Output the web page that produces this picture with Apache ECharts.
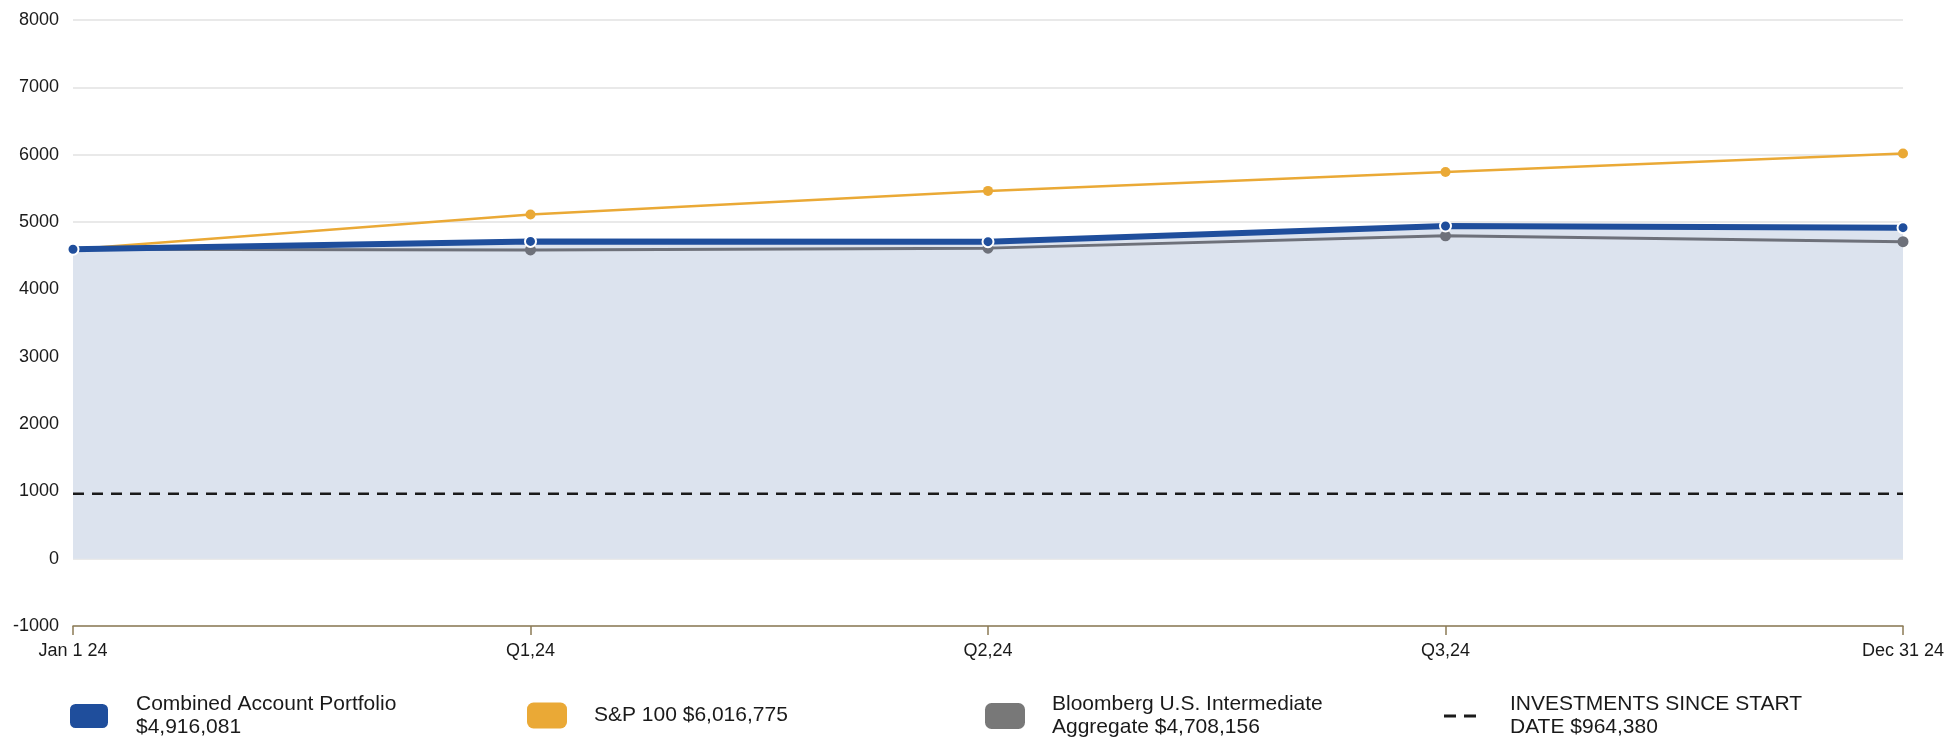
<!DOCTYPE html>
<html>
<head>
<meta charset="utf-8">
<script src="https://cdn.jsdelivr.net/npm/echarts@6/dist/echarts.min.js"></script>
<style>
  html, body { margin: 0; padding: 0; background: #fff; }
  #chart { width: 1950px; height: 740px; }
</style>
</head>
<body>
<div id="chart"></div>
<script>
// Period labels along the x axis
const periods = ['Jan 1 24', 'Q1,24', 'Q2,24', 'Q3,24', 'Dec 31 24'];

// Portfolio and benchmark values (thousands of dollars)
const combinedPortfolio = [4595, 4712, 4708, 4941, 4916];
const sp100 = [4595, 5112, 5462, 5742, 6017];
const bloombergAgg = [4595, 4585, 4612, 4795, 4708];
const investedSinceStart = [964.38, 964.38, 964.38, 964.38, 964.38];

// Y axis range and step
const yMin = -1000;
const yMax = 8000;
const yStep = 1000;

// Legend captions
const legendText = {
  'Combined Account Portfolio': 'Combined Account Portfolio\n$4,916,081',
  'S&P 100': 'S&P 100 $6,016,775',
  'Bloomberg U.S. Intermediate Aggregate': 'Bloomberg U.S. Intermediate\nAggregate $4,708,156',
  'INVESTMENTS SINCE START DATE': 'INVESTMENTS SINCE START\nDATE $964,380'
};

const BLUE = '#1f4e9c';
const ORANGE = '#eaa936';
const GRAY = '#6e717a';
const FONT = '"Liberation Sans", Arial, sans-serif';

const chart = echarts.init(document.getElementById('chart'), null, { renderer: 'canvas' });

function legendTextStyle(padTop, padLeft) {
  return {
    fontFamily: FONT,
    fontSize: 21,
    lineHeight: 23,
    color: '#1a1a1a',
    padding: [padTop, 0, 0, padLeft]
  };
}

function legendFor(left, extra) {
  return Object.assign({
    left: left,
    top: 686,
    padding: 0,
    orient: 'horizontal',
    itemWidth: 40,
    itemHeight: 26,
    selectedMode: false,
    formatter: n => legendText[n],
    textStyle: legendTextStyle(14, 22)
  }, extra);
}

chart.setOption({
  animation: false,
  backgroundColor: '#fff',
  grid: { left: 73, right: 47, top: 20, bottom: 114, containLabel: false },
  xAxis: {
    type: 'category',
    data: periods,
    boundaryGap: false,
    axisLine: { onZero: false, lineStyle: { color: '#8c7b55', width: 1.5 } },
    axisTick: { show: true, length: 9, alignWithLabel: true, lineStyle: { color: '#8c7b55', width: 1.5 } },
    axisLabel: { color: '#1a1a1a', fontFamily: FONT, fontSize: 18, margin: 16 },
    splitLine: { show: false }
  },
  yAxis: {
    type: 'value',
    min: yMin,
    max: yMax,
    interval: yStep,
    axisLine: { show: false },
    axisTick: { show: false },
    axisLabel: {
      color: '#1a1a1a', fontFamily: FONT, fontSize: 18, margin: 14,
      formatter: v => String(v)
    },
    splitLine: { lineStyle: { color: '#e2e2e2', width: 1.5 } }
  },
  legend: [
    legendFor(68, {
      icon: 'roundRect',
      data: [{ name: 'Combined Account Portfolio', itemStyle: { color: BLUE } }]
    }),
    legendFor(527, {
      icon: 'roundRect',
      top: 696,
      data: [{ name: 'S&P 100', itemStyle: { color: ORANGE } }],
      textStyle: legendTextStyle(16, 22)
    }),
    legendFor(985, {
      icon: 'roundRect',
      data: [{ name: 'Bloomberg U.S. Intermediate Aggregate', itemStyle: { color: '#787878' } }]
    }),
    legendFor(1444, {
      icon: 'path://M0,0H12V3H0Z M20,0H32V3H20Z',
      itemWidth: 34,
      itemHeight: 3,
      data: [{ name: 'INVESTMENTS SINCE START DATE', itemStyle: { color: '#1a1a1a' } }],
      textStyle: legendTextStyle(14, 28)
    })
  ],
  series: [
    {
      // shaded region beneath the combined portfolio line
      name: 'combined-fill',
      type: 'line',
      data: combinedPortfolio,
      z: 1,
      symbol: 'none',
      lineStyle: { width: 0, opacity: 0 },
      areaStyle: { color: '#dce3ee', opacity: 1, origin: 0 },
      silent: true
    },
    {
      name: 'INVESTMENTS SINCE START DATE',
      type: 'line',
      data: investedSinceStart,
      z: 2,
      symbol: 'none',
      color: '#1a1a1a',
      lineStyle: { color: '#1a1a1a', width: 2.5, type: [11, 8] }
    },
    {
      name: 'Bloomberg U.S. Intermediate Aggregate',
      type: 'line',
      data: bloombergAgg,
      z: 3,
      color: GRAY,
      symbol: 'circle',
      symbolSize: 11,
      showAllSymbol: true,
      lineStyle: { color: GRAY, width: 3 },
      itemStyle: { color: GRAY }
    },
    {
      name: 'S&P 100',
      type: 'line',
      data: sp100,
      z: 4,
      color: ORANGE,
      symbol: 'circle',
      symbolSize: 10,
      showAllSymbol: true,
      lineStyle: { color: ORANGE, width: 2.5 },
      itemStyle: { color: ORANGE }
    },
    {
      name: 'Combined Account Portfolio',
      type: 'line',
      data: combinedPortfolio,
      z: 5,
      color: BLUE,
      symbol: 'circle',
      symbolSize: 11,
      showAllSymbol: true,
      lineStyle: { color: BLUE, width: 6 },
      itemStyle: { color: BLUE, borderColor: '#ffffff', borderWidth: 2 }
    }
  ]
});
</script>
</body>
</html>
